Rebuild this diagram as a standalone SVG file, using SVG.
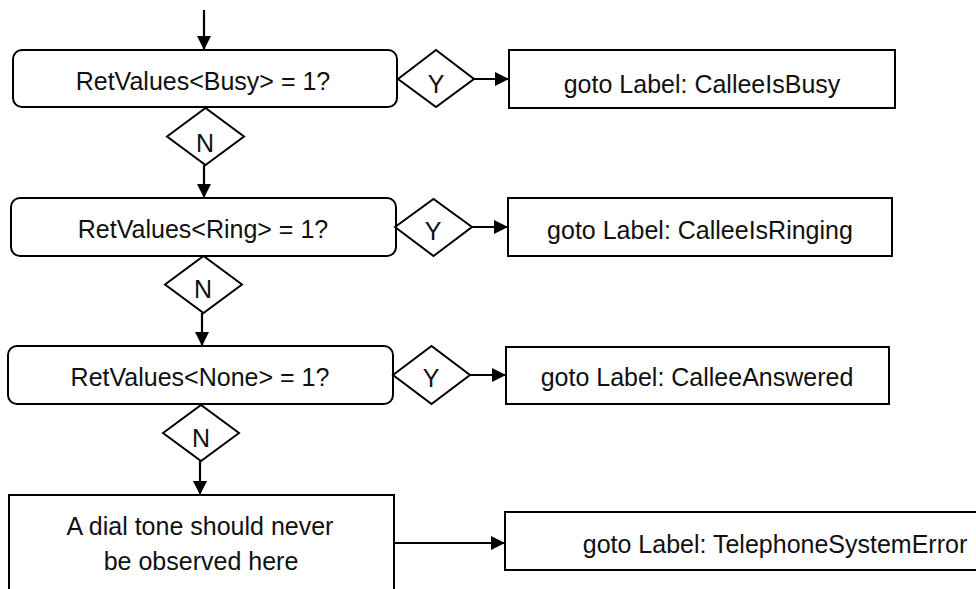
<svg xmlns="http://www.w3.org/2000/svg" width="976" height="589" viewBox="0 0 976 589">
<defs>
<marker id="arr" markerUnits="userSpaceOnUse" markerWidth="15" markerHeight="14" refX="14" refY="7" orient="auto">
<path d="M0,0 L14,7 L0,14 z" fill="#000"/>
</marker>
<style>
.box{fill:#fff;stroke:#000;stroke-width:2}
.dia{fill:#fff;stroke:#000;stroke-width:2}
.ln{fill:none;stroke:#000;stroke-width:2.2}
text{font-family:"Liberation Sans",Arial,sans-serif;font-size:25px;fill:#111;text-anchor:middle}
</style>
</defs>
<rect width="976" height="589" fill="#fff"/>
<g id="connectors">
<line class="ln" x1="204" y1="10" x2="204" y2="50" marker-end="url(#arr)"/>
<line class="ln" x1="204" y1="165" x2="204" y2="198" marker-end="url(#arr)"/>
<line class="ln" x1="202" y1="313" x2="202" y2="346" marker-end="url(#arr)"/>
<line class="ln" x1="200" y1="461" x2="200" y2="495" marker-end="url(#arr)"/>
<line class="ln" x1="474" y1="79" x2="509" y2="79" marker-end="url(#arr)"/>
<line class="ln" x1="472" y1="227" x2="508" y2="227" marker-end="url(#arr)"/>
<line class="ln" x1="470" y1="375" x2="506" y2="375" marker-end="url(#arr)"/>
<line class="ln" x1="394" y1="543" x2="505" y2="543" marker-end="url(#arr)"/>
</g>
<g id="q1"><rect class="box" x="13" y="50" width="384" height="57" rx="9"/><text x="203" y="90">RetValues&lt;Busy&gt; = 1?</text></g>
<g id="q2"><rect class="box" x="11" y="198" width="385" height="58" rx="9"/><text x="203" y="238">RetValues&lt;Ring&gt; = 1?</text></g>
<g id="q3"><rect class="box" x="8" y="346" width="385" height="58" rx="9"/><text x="200" y="386">RetValues&lt;None&gt; = 1?</text></g>
<g id="dialtone"><rect class="box" x="9" y="495" width="385" height="110"/><text x="200" y="535">A dial tone should never</text><text x="201" y="570">be observed here</text></g>
<g id="y1"><polygon class="dia" points="398,79 436,50 474,79 436,107"/><text x="436" y="93">Y</text></g>
<g id="y2"><polygon class="dia" points="395,227 433.5,199 472,227 433.5,256"/><text x="433" y="240">Y</text></g>
<g id="y3"><polygon class="dia" points="393,375 431.5,346 470,375 431.5,404"/><text x="431" y="387">Y</text></g>
<g id="n1"><polygon class="dia" points="167,136.5 205.5,108 244,136.5 205.5,165"/><text x="205" y="152">N</text></g>
<g id="n2"><polygon class="dia" points="165,284.5 203.5,256 242,284.5 203.5,313"/><text x="203" y="298">N</text></g>
<g id="n3"><polygon class="dia" points="163,433 201,405 239,433 201,461"/><text x="201" y="447">N</text></g>
<g id="g1"><rect class="box" x="509" y="50" width="386" height="58"/><text x="702" y="93">goto Label: CalleeIsBusy</text></g>
<g id="g2"><rect class="box" x="508" y="198" width="384" height="58"/><text x="700" y="239">goto Label: CalleeIsRinging</text></g>
<g id="g3"><rect class="box" x="506" y="347" width="383" height="57"/><text x="697" y="386">goto Label: CalleeAnswered</text></g>
<g id="g4"><rect class="box" x="505" y="512" width="490" height="58"/><text x="775" y="553">goto Label: TelephoneSystemError</text></g>
</svg>
